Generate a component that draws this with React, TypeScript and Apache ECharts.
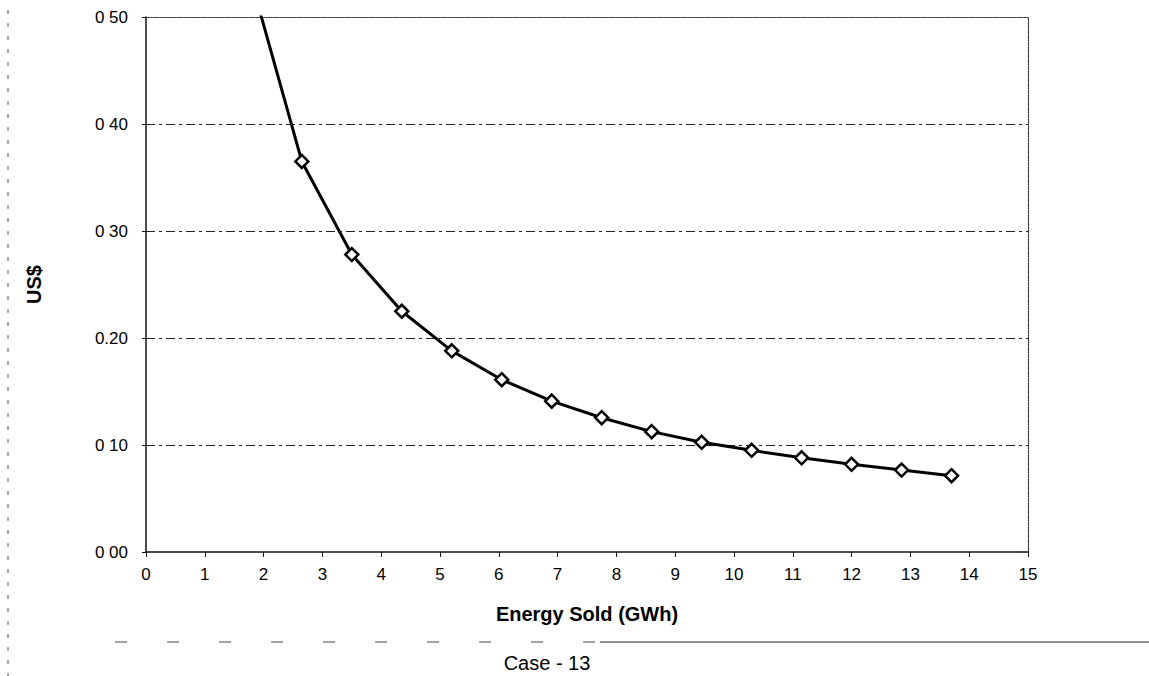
import React, { useEffect, useRef } from "react";
import * as echarts from "echarts";

const energySold = [1.8, 2.65, 3.5, 4.35, 5.2, 6.05, 6.9, 7.75, 8.6, 9.45, 10.3, 11.15, 12.0, 12.85, 13.7];
const costUSD = [0.532, 0.365, 0.278, 0.225, 0.188, 0.161, 0.141, 0.1255, 0.1125, 0.1025, 0.095, 0.088, 0.082, 0.0766, 0.0713];
const yTickLabels = ["0 00", "0 10", "0.20", "0 30", "0 40", "0 50"];
const xTitle = "Energy Sold (GWh)";
const yTitle = "US$";
const caption = "Case - 13";

const FONT = "'Liberation Sans', Arial, sans-serif";

export default function App() {
  const ref = useRef<HTMLDivElement>(null);
  useEffect(() => {
    if (!ref.current) return;
    const chart = echarts.init(ref.current, null, { renderer: "svg" });
    const data = energySold.map((x, i) => [x, costUSD[i]]);
    chart.setOption({
      animation: false,
      backgroundColor: "#fff",
      grid: { left: 146, right: 121, top: 17, bottom: 124, containLabel: false },
      xAxis: [
        {
          type: "value",
          min: 0,
          max: 15,
          interval: 1,
          position: "bottom",
          axisLine: { show: true, onZero: false, lineStyle: { color: "#111", width: 1.5 } },
          axisTick: { show: true, length: 5, lineStyle: { color: "#111", width: 1 } },
          axisLabel: { color: "#000", fontSize: 17, fontFamily: FONT, margin: 14 },
          splitLine: { show: false },
          name: xTitle,
          nameLocation: "middle",
          nameGap: 52,
          nameTextStyle: { color: "#000", fontSize: 20, fontWeight: "bold", fontFamily: FONT },
        },
        {
          type: "value",
          min: 0,
          max: 15,
          interval: 1,
          position: "top",
          axisLine: { show: true, onZero: false, lineStyle: { color: "#333", width: 1.2, type: "dotted" } },
          axisTick: { show: false },
          axisLabel: { show: false },
          splitLine: { show: false },
        },
      ],
      yAxis: [
        {
          type: "value",
          min: 0,
          max: 0.5,
          interval: 0.1,
          position: "left",
          axisLine: { show: true, onZero: false, lineStyle: { color: "#111", width: 1.5 } },
          axisTick: { show: true, length: 4, lineStyle: { color: "#111", width: 1 } },
          axisLabel: {
            color: "#000",
            fontSize: 17,
            fontFamily: FONT,
            margin: 18,
            formatter: (v: number) => yTickLabels[Math.round(v * 10)] ?? "",
          },
          splitLine: {
            show: true,
            lineStyle: {
              color: ["transparent", "#222", "#222", "#222", "#222", "transparent"],
              width: 1,
              type: [9, 4, 3, 4],
            },
          },
          name: yTitle,
          nameLocation: "middle",
          nameRotate: 90,
          nameGap: 102,
          nameTextStyle: { color: "#000", fontSize: 20, fontWeight: "bold", fontFamily: FONT },
        },
        {
          type: "value",
          min: 0,
          max: 0.5,
          interval: 0.1,
          position: "right",
          axisLine: { show: true, onZero: false, lineStyle: { color: "#333", width: 1.2, type: "dotted" } },
          axisTick: { show: false },
          axisLabel: { show: false },
          splitLine: { show: false },
        },
      ],
      series: [
        {
          type: "line",
          xAxisIndex: 0,
          yAxisIndex: 0,
          data,
          clip: true,
          symbol: "diamond",
          symbolSize: 13,
          showAllSymbol: true,
          lineStyle: { color: "#000", width: 3 },
          itemStyle: { color: "#fff", borderColor: "#000", borderWidth: 2.5 },
          z: 5,
        },
      ],
      graphic: [
        {
          type: "line",
          shape: { x1: 8, y1: 10, x2: 8, y2: 676 },
          style: { stroke: "#555", lineWidth: 1, lineDash: [4, 9] },
          silent: true,
        },
        {
          type: "line",
          shape: { x1: 115, y1: 642, x2: 600, y2: 642 },
          style: { stroke: "#444", lineWidth: 1, lineDash: [12, 40] },
          silent: true,
        },
        {
          type: "line",
          shape: { x1: 600, y1: 642, x2: 1149, y2: 642 },
          style: { stroke: "#222", lineWidth: 1.2 },
          silent: true,
        },
        {
          type: "text",
          x: 547,
          y: 663,
          style: {
            text: caption,
            fill: "#000",
            fontSize: 20,
            fontFamily: FONT,
            align: "center",
            verticalAlign: "middle",
          },
        },
      ],
    });
    return () => chart.dispose();
  }, []);
  return (
    <div
      ref={ref}
      style={{ position: "fixed", left: 0, top: 0, width: 1149, height: 676, background: "#fff" }}
    />
  );
}
